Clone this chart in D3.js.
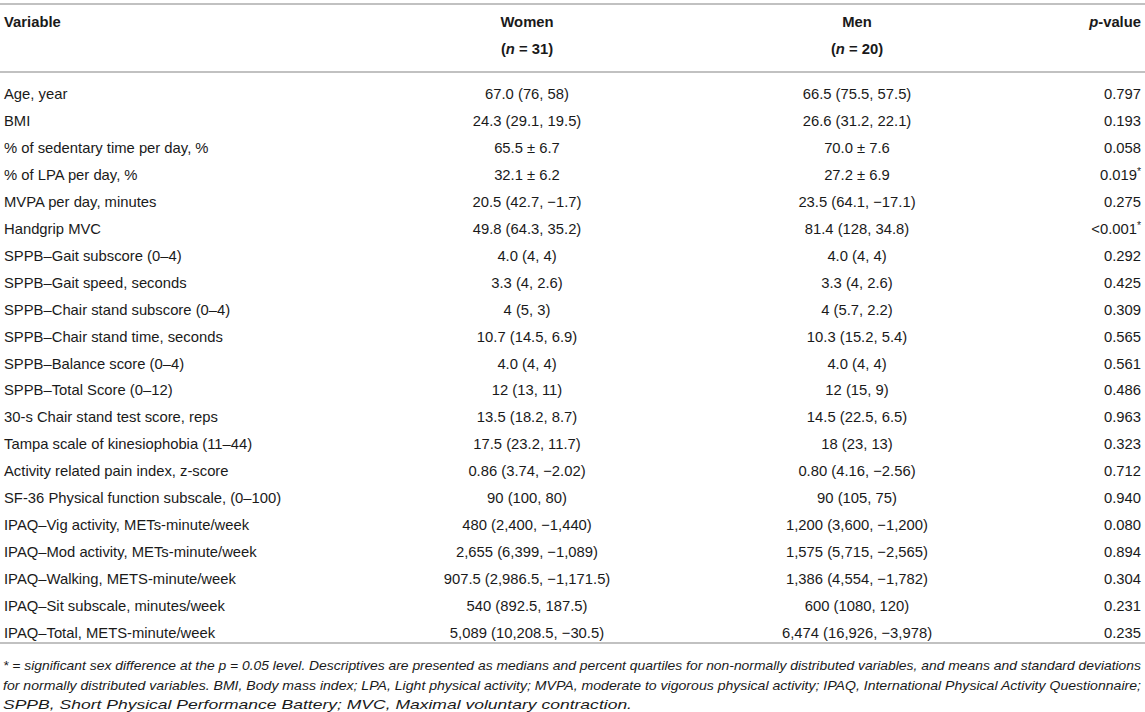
<!DOCTYPE html>
<html>
<head>
<meta charset="utf-8">
<script src="https://cdn.jsdelivr.net/npm/d3@7"></script>
<style>
  body { margin: 0; background: #fff; }
  svg text { font-family: "Liberation Sans", Arial, sans-serif; fill: #1a1a1a; }
</style>
</head>
<body>
<div id="table"></div>
<script>
// table content
var variables = [
  "Age, year", "BMI", "% of sedentary time per day, %", "% of LPA per day, %",
  "MVPA per day, minutes", "Handgrip MVC", "SPPB\u2013Gait subscore (0\u20134)",
  "SPPB\u2013Gait speed, seconds", "SPPB\u2013Chair stand subscore (0\u20134)",
  "SPPB\u2013Chair stand time, seconds", "SPPB\u2013Balance score (0\u20134)",
  "SPPB\u2013Total Score (0\u201312)", "30-s Chair stand test score, reps",
  "Tampa scale of kinesiophobia (11\u201344)", "Activity related pain index, z-score",
  "SF-36 Physical function subscale, (0\u2013100)", "IPAQ\u2013Vig activity, METs-minute/week",
  "IPAQ\u2013Mod activity, METs-minute/week", "IPAQ\u2013Walking, METS-minute/week",
  "IPAQ\u2013Sit subscale, minutes/week", "IPAQ\u2013Total, METS-minute/week"
];
var women = [
  "67.0 (76, 58)", "24.3 (29.1, 19.5)", "65.5 \u00b1 6.7", "32.1 \u00b1 6.2",
  "20.5 (42.7, \u22121.7)", "49.8 (64.3, 35.2)", "4.0 (4, 4)", "3.3 (4, 2.6)",
  "4 (5, 3)", "10.7 (14.5, 6.9)", "4.0 (4, 4)", "12 (13, 11)", "13.5 (18.2, 8.7)",
  "17.5 (23.2, 11.7)", "0.86 (3.74, \u22122.02)", "90 (100, 80)",
  "480 (2,400, \u22121,440)", "2,655 (6,399, \u22121,089)",
  "907.5 (2,986.5, \u22121,171.5)", "540 (892.5, 187.5)", "5,089 (10,208.5, \u221230.5)"
];
var men = [
  "66.5 (75.5, 57.5)", "26.6 (31.2, 22.1)", "70.0 \u00b1 7.6", "27.2 \u00b1 6.9",
  "23.5 (64.1, \u221217.1)", "81.4 (128, 34.8)", "4.0 (4, 4)", "3.3 (4, 2.6)",
  "4 (5.7, 2.2)", "10.3 (15.2, 5.4)", "4.0 (4, 4)", "12 (15, 9)", "14.5 (22.5, 6.5)",
  "18 (23, 13)", "0.80 (4.16, \u22122.56)", "90 (105, 75)",
  "1,200 (3,600, \u22121,200)", "1,575 (5,715, \u22122,565)",
  "1,386 (4,554, \u22121,782)", "600 (1080, 120)", "6,474 (16,926, \u22123,978)"
];
var pvalues = [
  "0.797", "0.193", "0.058", "0.019*", "0.275", "<0.001*", "0.292", "0.425",
  "0.309", "0.565", "0.561", "0.486", "0.963", "0.323", "0.712", "0.940",
  "0.080", "0.894", "0.304", "0.231", "0.235"
];
var footnote = [
  "* = significant sex difference at the p = 0.05 level. Descriptives are presented as medians and percent quartiles for non-normally distributed variables, and means and standard deviations",
  "for normally distributed variables. BMI, Body mass index; LPA, Light physical activity; MVPA, moderate to vigorous physical activity; IPAQ, International Physical Activity Questionnaire;",
  "SPPB, Short Physical Performance Battery; MVC, Maximal voluntary contraction."
];
var footWidths = [1138, 1138, 629];

var width = 1145, height = 712;
var fontSize = 14.8;

var svg = d3.select("#table")
  .append("svg")
    .attr("width", width)
    .attr("height", height);

// column positions
var colVar = 4, colWomen = 527, colMen = 857, colP = 1141;

// row scale
var y = d3.scalePoint()
  .domain(d3.range(variables.length))
  .range([94, 633]);

function rule(yy) {
  svg.append("line")
    .attr("x1", 0).attr("x2", width)
    .attr("y1", yy).attr("y2", yy)
    .attr("stroke", "#adadad")
    .attr("stroke-width", 1.5);
}
rule(4);
rule(72);
rule(643);

// header
var head = svg.append("g").attr("font-weight", "bold").attr("font-size", fontSize);
head.append("text").attr("x", colVar).attr("y", 27).text("Variable");
head.append("text").attr("x", colWomen).attr("y", 27).attr("text-anchor", "middle").text("Women");
head.append("text").attr("x", colMen).attr("y", 27).attr("text-anchor", "middle").text("Men");
var pv = head.append("text").attr("x", colP).attr("y", 27).attr("text-anchor", "end");
pv.append("tspan").attr("font-style", "italic").text("p");
pv.append("tspan").text("-value");

[[colWomen, 31], [colMen, 20]].forEach(function(d) {
  var t = head.append("text").attr("x", d[0]).attr("y", 54).attr("text-anchor", "middle");
  t.append("tspan").text("(");
  t.append("tspan").attr("font-style", "italic").text("n");
  t.append("tspan").text(" = " + d[1] + ")");
});

// body rows
var rows = svg.append("g").attr("font-size", fontSize)
  .selectAll("g")
  .data(variables)
  .enter()
  .append("g")
    .attr("transform", function(d, i) { return "translate(0," + (y(i) + 5) + ")"; });

rows.append("text").attr("x", colVar).text(function(d) { return d; });
rows.append("text").attr("x", colWomen).attr("text-anchor", "middle")
  .text(function(d, i) { return women[i]; });
rows.append("text").attr("x", colMen).attr("text-anchor", "middle")
  .text(function(d, i) { return men[i]; });
rows.append("text").attr("x", colP).attr("text-anchor", "end")
  .each(function(d, i) {
    var p = pvalues[i], t = d3.select(this);
    if (p.slice(-1) == "*") {
      t.append("tspan").text(p.slice(0, -1));
      t.append("tspan").attr("font-size", fontSize * 0.7).attr("dy", -5).text("*");
    } else {
      t.text(p);
    }
  });

// footnote (condensed italic in the original, so fit each line to its width)
var fy = d3.scalePoint().domain(d3.range(footnote.length)).range([670, 709]);
svg.append("g").attr("font-size", 13.2).attr("font-style", "italic")
  .selectAll("text")
  .data(footnote)
  .enter()
  .append("text")
    .attr("x", 3)
    .attr("y", function(d, i) { return fy(i); })
    .attr("textLength", function(d, i) { return footWidths[i]; })
    .attr("lengthAdjust", "spacingAndGlyphs")
    .text(function(d) { return d; });
</script>
</body>
</html>
